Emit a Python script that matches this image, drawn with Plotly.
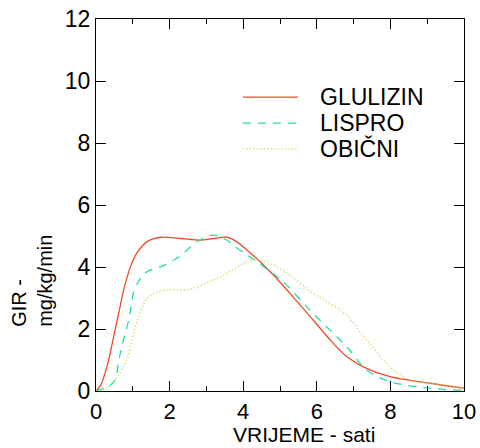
import plotly.graph_objects as go

glu_x = [0, 0.13, 0.31, 0.49, 0.63, 0.76, 0.94, 1.12, 1.39, 1.76, 2.3, 2.83, 3.2, 3.55, 3.82, 4.1, 4.46, 4.82, 5.27, 5.9, 6.4, 6.81, 7.26, 7.99, 9.08, 10]
glu_y = [0, 0.19, 0.84, 1.81, 2.58, 3.3, 4.02, 4.47, 4.82, 4.96, 4.92, 4.87, 4.92, 4.96, 4.82, 4.55, 4.17, 3.74, 3.15, 2.29, 1.6, 1.11, 0.78, 0.46, 0.25, 0.09]

lis_x = [0, 0.22, 0.49, 0.63, 0.76, 0.9, 1.03, 1.21, 1.39, 1.76, 2.26, 2.42, 2.78, 3.19, 3.55, 3.87, 4.18, 4.5, 4.86, 5.16, 5.9, 6.81, 7.35, 7.99, 9.08, 10]
lis_y = [0, 0.09, 0.3, 1.06, 1.7, 2.35, 3.2, 3.63, 3.85, 4.01, 4.33, 4.49, 4.84, 5.03, 4.87, 4.58, 4.33, 4.06, 3.74, 3.44, 2.5, 1.43, 0.68, 0.3, 0.09, 0.02]

obi_x = [0, 0.25, 0.4, 0.67, 0.85, 1.03, 1.21, 1.39, 1.67, 2.03, 2.35, 2.64, 3.19, 3.64, 4.1, 4.46, 4.91, 5.27, 5.9, 6.36, 6.81, 7.35, 7.99, 8.53, 9.08, 10]
obi_y = [0, 0.05, 0.19, 0.62, 1.05, 1.91, 2.56, 2.99, 3.2, 3.26, 3.26, 3.31, 3.58, 3.85, 4.17, 4.23, 4.01, 3.74, 3.15, 2.83, 2.45, 1.65, 0.78, 0.35, 0.25, 0.1]

names = ["GLULIZIN", "LISPRO", "OBIČNI"]
colors = ["#f04a28", "#20e0a0", "#b0e050"]
dashes = ["solid", "8px,7px", "1.2px,2.3px"]

x_ticks = [0, 2, 4, 6, 8, 10]
y_ticks = [0, 2, 4, 6, 8, 10, 12]
x_title = "VRIJEME - sati"
y_title = "GIR -<br>mg/kg/min"

fnt = "Liberation Sans, Arial, sans-serif"

fig = go.Figure()
for xs, ys, n, c, d in zip([glu_x, lis_x, obi_x], [glu_y, lis_y, obi_y], names, colors, dashes):
    fig.add_trace(go.Scatter(x=xs, y=ys, name=n, mode="lines", showlegend=False,
                             line=dict(color=c, dash=d, width=1.3, shape="spline", smoothing=1.0)))

# manual legend (line samples + real text labels), positioned in paper coordinates
leg_y = [0.790, 0.720, 0.651]
for n, c, d, ly in zip(names, colors, dashes, leg_y):
    fig.add_shape(type="line", xref="paper", yref="paper", x0=0.399, x1=0.549, y0=ly, y1=ly,
                  line=dict(color=c, dash=d, width=1.3))
    fig.add_annotation(xref="paper", yref="paper", x=0.603, y=ly, xanchor="left", yanchor="middle",
                       text=n, showarrow=False, font=dict(size=23, family=fnt, color="black"))

fig.add_annotation(xref="paper", yref="paper", x=0.565, y=-0.118, xanchor="center", yanchor="middle",
                   text=x_title, showarrow=False, font=dict(size=21, family=fnt, color="black"))
fig.add_annotation(xref="paper", yref="paper", x=-0.174, y=0.296, xanchor="center", yanchor="middle",
                   text=y_title, showarrow=False, textangle=-90, align="left",
                   font=dict(size=20, family=fnt, color="black"))

fig.update_layout(
    width=480, height=448,
    margin=dict(l=96, r=16, t=19, b=57),
    paper_bgcolor="white", plot_bgcolor="white",
    font=dict(family=fnt, color="black"),
    showlegend=False,
    xaxis=dict(range=[0, 10], tickvals=x_ticks, ticks="inside", ticklen=10,
               tickwidth=1.3, tickcolor="black", showline=True, linecolor="black", linewidth=1.3,
               mirror="ticks", showgrid=False, zeroline=False, automargin=False,
               tickfont=dict(size=22),
               minor=dict(dtick=1, ticks="inside", ticklen=5, tickcolor="black", tickwidth=1)),
    yaxis=dict(range=[0, 12], tickvals=y_ticks, ticks="inside", ticklen=10,
               tickwidth=1.3, tickcolor="black", showline=True, linecolor="black", linewidth=1.3,
               mirror="ticks", showgrid=False, zeroline=False, automargin=False,
               tickfont=dict(size=23)),
)
fig.write_html("out.html", config={"displayModeBar": False},
               post_script="document.body.style.margin='0px';document.body.style.overflow='hidden';")
